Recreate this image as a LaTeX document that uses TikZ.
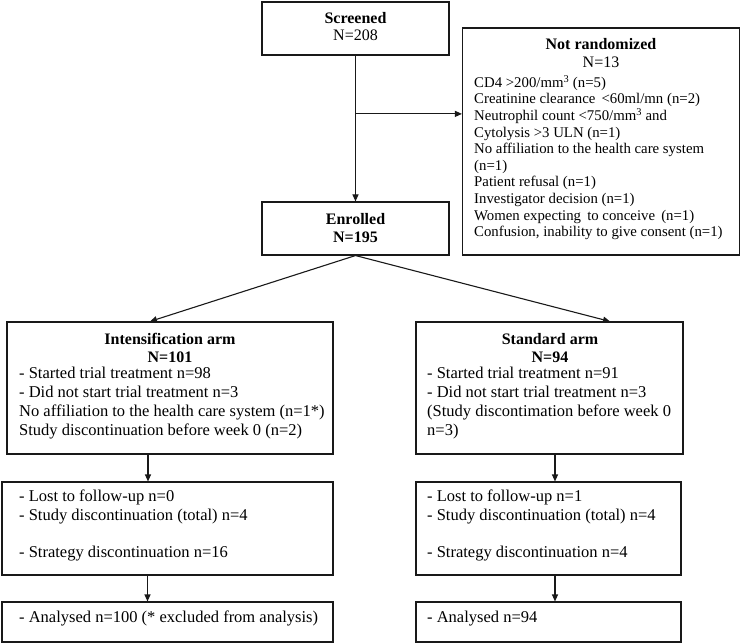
\documentclass[tikz,border=0pt]{standalone}
\usepackage{fontspec}
\setmainfont{Liberation Serif}
\definecolor{FlowLine}{RGB}{25, 25, 25}
\usepackage{tikz}
\usetikzlibrary{arrows.meta, positioning, calc}
\tikzset{
  box/.style={rectangle, draw=FlowLine, line width=1.1pt, fill=white,
              minimum width=#1, inner sep=0pt},
  hdr/.style={align=center, inner sep=0pt,
              font=\fontsize{16}{17.5}\selectfont\bfseries},
  lst/.style={align=left, inner sep=0pt, anchor=north west,
              font=\fontsize{16.5}{19}\selectfont},
  nrlst/.style={align=left, inner sep=0pt, anchor=north west,
                font=\fontsize{14.8}{16.6}\selectfont},
  arr/.style={-{Triangle[length=7pt, width=6pt]}, line width=1.1pt, color=FlowLine},
}

\begin{document}
\begin{tikzpicture}[x=1pt, y={(0,-1pt)}]
      \useasboundingbox (0,0) rectangle (742,644);

      % Screening
      \node[box=187pt, minimum height=53pt] (screen) at (355.5,28.5) {};
      \node[hdr] (screen-t) at (355.5,26.5) {Screened\\\mdseries N=208};

      \node[box=277pt, minimum height=227pt] (notrand) at (601,141.5) {};
      \node[hdr] (notrand-t) at (601,53) {Not randomized\\\mdseries N=13};
      \node[nrlst] (notrand-l) at (474,75) {%
        CD4 >200/mm\textsuperscript{3} (n=5)\\
        Creatinine clearance \,<60ml/mn (n=2)\\
        Neutrophil count <750/mm\textsuperscript{3} and\\
        Cytolysis >3 ULN (n=1)\\
        No affiliation to the health care system\\
        (n=1)\\
        Patient refusal (n=1)\\
        Investigator decision (n=1)\\
        Women expecting \,to conceive \,(n=1)\\
        Confusion, inability to give consent (n=1)};

      \node[box=187pt, minimum height=53pt] (enrol) at (355.5,228.5) {};
      \node[hdr] (enrol-t) at (355.5,228) {Enrolled\\N=195};

      % Arms
      \node[box=326pt, minimum height=132pt] (intens) at (170,388) {};
      \node[hdr] (intens-t) at (170,348) {Intensification arm\\N=101};
      \node[lst] (intens-l) at (19,366.5) {%
        - Started trial treatment n=98\\
        - Did not start trial treatment n=3\\
        No affiliation to the health care system (n=1*)\\
        Study discontinuation before week 0 (n=2)};

      \node[box=267pt, minimum height=132pt] (standard) at (549.5,388) {};
      \node[hdr] (standard-t) at (550,348) {Standard arm\\N=94};
      \node[lst] (standard-l) at (427,366.5) {%
        - Started trial treatment n=91\\
        - Did not start trial treatment n=3\\
        (Study discontimation before week 0\\
        n=3)};

      % Follow-up
      \node[box=331pt, minimum height=93pt] (ifollow) at (167.5,528.5) {};
      \node[lst] (ifollow-l) at (19,490) {%
        - Lost to follow-up n=0\\
        - Study discontinuation (total) n=4\\[18pt]
        - Strategy discontinuation n=16};

      \node[box=265pt, minimum height=93pt] (sfollow) at (548.5,528.5) {};
      \node[lst] (sfollow-l) at (427,490) {%
        - Lost to follow-up n=1\\
        - Study discontinuation (total) n=4\\[18pt]
        - Strategy discontinuation n=4};

      % Analysis
      \node[box=331pt, minimum height=40pt] (ianal) at (167.5,622) {};
      \node[lst] (ianal-l) at (19,611) {- Analysed n=100 (* excluded from analysis)};

      \node[box=265pt, minimum height=40pt] (sanal) at (548.5,622) {};
      \node[lst] (sanal-l) at (427,611) {- Analysed n=94};

      \coordinate (split) at ($(screen.south)!0.4!(enrol.north)$);

      \draw[arr] (screen.south) -- (enrol.north);
      \draw[arr] (split) -- (split -| notrand.west);

      \draw[arr] (enrol.south) -- ([xshift=-20pt]intens.north);
      \draw[arr] (enrol.south) -- ([xshift=60.5pt]standard.north);

      \draw[arr] ([xshift=-22pt]intens.south) -- ([xshift=-22pt]intens.south |- ifollow.north);
      \draw[arr] ([xshift=-20pt]ifollow.south) -- ([xshift=-20pt]ifollow.south |- ianal.north);
      \draw[arr] ([xshift=5.5pt]standard.south) -- ([xshift=5.5pt]standard.south |- sfollow.north);
      \draw[arr] ([xshift=6.5pt]sfollow.south) -- ([xshift=6.5pt]sfollow.south |- sanal.north);
    \end{tikzpicture}
\end{document}
